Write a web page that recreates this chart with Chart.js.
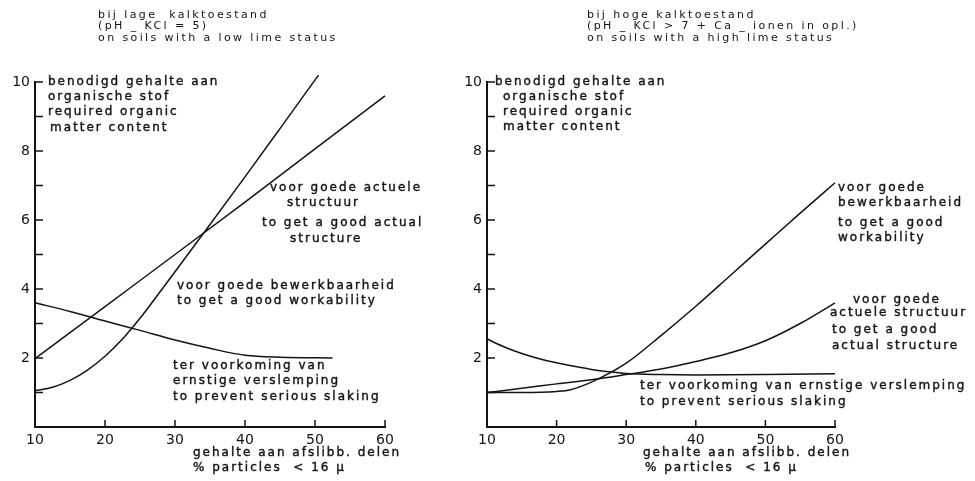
<!DOCTYPE html>
<html>
<head>
<meta charset="utf-8">
<script src="https://cdn.jsdelivr.net/npm/chart.js@4.4.0/dist/chart.umd.min.js"></script>
<style>
  html, body { margin: 0; padding: 0; background: #fff; }
  #wrap { position: relative; width: 975px; height: 481px; }
  #leftBox { position: absolute; left: 0; top: 0; }
  #rightBox { position: absolute; left: 440px; top: 0; }
</style>
</head>
<body>
<div id="wrap">
  <div id="leftBox"><canvas id="lowLime" width="440" height="481"></canvas></div>
  <div id="rightBox"><canvas id="highLime" width="535" height="481"></canvas></div>
</div>
<script>
// % particles < 16 micron (x) vs required organic matter content (y)
const xTicks = [10, 20, 30, 40, 50, 60];
const yTicks = [2, 4, 6, 8, 10];

// low lime status (pH-KCl = 5)
const lowStructureX = [10, 20, 30, 40, 50, 60];
const lowStructureY = [1.98, 3.49, 5.0, 6.52, 8.06, 9.6];
const lowWorkX = [10, 12.5, 15, 17.5, 20, 22.5, 25, 27.5, 30, 35, 40, 45, 50.5];
const lowWorkY = [1.05, 1.15, 1.35, 1.65, 2.05, 2.55, 3.15, 3.82, 4.5, 5.87, 7.25, 8.65, 10.2];
const lowSlakingX = [10, 15, 20, 25, 30, 35, 40, 45, 52.5];
const lowSlakingY = [3.6, 3.35, 3.07, 2.8, 2.52, 2.28, 2.08, 2.02, 2.0];

// high lime status (pH-KCl > 7 + Ca ions in solution)
const highWorkX = [10, 15, 20, 22, 25, 30, 35, 40, 45, 50, 55, 60];
const highWorkY = [1.0, 1.0, 1.03, 1.08, 1.3, 1.85, 2.65, 3.5, 4.4, 5.3, 6.2, 7.08];
const highStructureX = [10, 15, 20, 25, 30, 35, 40, 45, 50, 55, 60, 62];
const highStructureY = [1.0, 1.12, 1.25, 1.37, 1.52, 1.68, 1.9, 2.15, 2.5, 3.0, 3.6, 3.85];
const highSlakingX = [10, 12.5, 15, 17.5, 20, 22.5, 25, 27.5, 30, 35, 40, 50, 60];
const highSlakingY = [2.55, 2.32, 2.13, 1.98, 1.86, 1.76, 1.67, 1.6, 1.55, 1.52, 1.51, 1.52, 1.54];

// text written on the figure, [text, x, y, font size] in page pixels
const lowNotes = [
  ['bij lage  kalktoestand', 98, 15, 11],
  ['(pH _ KCl = 5)', 98, 26, 11],
  ['on soils with a low lime status', 98, 38, 11],
  ['benodigd gehalte aan', 48, 82],
  ['organische stof', 48, 97],
  ['required organic', 48, 112],
  ['matter content', 50, 128],
  ['voor goede actuele', 270, 188],
  ['structuur', 287, 203],
  ['to get a good actual', 262, 223],
  ['structure', 290, 239],
  ['voor goede bewerkbaarheid', 177, 286],
  ['to get a good workability', 177, 301],
  ['ter voorkoming van', 173, 366],
  ['ernstige verslemping', 173, 381],
  ['to prevent serious slaking', 173, 397],
  ['gehalte aan afslibb. delen', 193, 453],
  ['% particles  < 16 μ', 193, 468]
];
const highNotes = [
  ['bij hoge kalktoestand', 587, 15, 11],
  ['(pH _ KCl > 7 + Ca _ ionen in opl.)', 587, 26, 11],
  ['on soils with a high lime status', 587, 38, 11],
  ['benodigd gehalte aan', 495, 82],
  ['organische stof', 503, 97],
  ['required organic', 503, 112],
  ['matter content', 503, 127],
  ['voor goede', 838, 188],
  ['bewerkbaarheid', 838, 203],
  ['to get a good', 838, 223],
  ['workability', 838, 238],
  ['voor goede', 853, 300],
  ['actuele structuur', 830, 313],
  ['to get a good', 832, 330],
  ['actual structure', 832, 346],
  ['ter voorkoming van ernstige verslemping', 640, 386],
  ['to prevent serious slaking', 640, 402],
  ['gehalte aan afslibb. delen', 643, 453],
  ['% particles  < 16 μ', 645, 468]
];

const ink = '#141414';
Chart.defaults.font.family = '"DejaVu Sans", sans-serif';
Chart.defaults.font.size = 12;
Chart.defaults.color = ink;

function pts(xs, ys) {
  return xs.map(function(x, i) { return { x: x, y: ys[i] }; });
}

// tick marks drawn inside the axes + the hand lettering
const sketchPlugin = {
  id: 'sketch',
  afterDraw: function(chart, args, opts) {
    const ctx = chart.ctx;
    const xs = chart.scales.x;
    const ys = chart.scales.y;
    const area = chart.chartArea;
    ctx.save();
    ctx.strokeStyle = ink;
    ctx.lineWidth = 1.5;
    ctx.beginPath();
    ys.ticks.forEach(function(t) {
      if (t.value <= 0) return;
      const py = ys.getPixelForValue(t.value);
      ctx.moveTo(area.left, py);
      ctx.lineTo(area.left + 8, py);
    });
    xs.ticks.forEach(function(t) {
      if (t.value <= xs.min) return;
      const px = xs.getPixelForValue(t.value);
      ctx.moveTo(px, area.bottom);
      ctx.lineTo(px, area.bottom - 7);
    });
    ctx.stroke();

    ctx.fillStyle = ink;
    ctx.lineWidth = 0.4;
    ctx.textAlign = 'left';
    ctx.textBaseline = 'middle';
    opts.notes.forEach(function(n) {
      const size = n[3] || 12;
      ctx.font = size + 'px "DejaVu Sans", sans-serif';
      ctx.letterSpacing = (size === 12 ? 2 : 2.4) + 'px';
      ctx.fillText(n[0], n[1] - opts.offset, n[2]);
      // heavier pen for the body lettering
      if (size === 12) ctx.strokeText(n[0], n[1] - opts.offset, n[2]);
    });
    ctx.restore();
  }
};

function line(xs, ys) {
  return {
    data: pts(xs, ys),
    showLine: true,
    borderColor: ink,
    borderWidth: 1.5,
    pointRadius: 0,
    cubicInterpolationMode: 'monotone',
    clip: false
  };
}

function makeChart(id, datasets, notes, offset, axisWidth, padRight) {
  return new Chart(document.getElementById(id), {
    type: 'scatter',
    data: { datasets: datasets },
    options: {
      responsive: false,
      animation: false,
      layout: { padding: { top: 82, right: padRight, bottom: 0, left: 0 } },
      plugins: {
        legend: { display: false },
        tooltip: { enabled: false },
        sketch: { notes: notes, offset: offset }
      },
      scales: {
        x: {
          type: 'linear',
          min: 10,
          max: 60,
          afterBuildTicks: function(scale) {
            scale.ticks = xTicks.map(function(v) { return { value: v }; });
          },
          afterFit: function(scale) { scale.height = 54; },
          grid: { display: false, drawTicks: false },
          border: { display: true, color: ink, width: 2 },
          ticks: { padding: 5, maxRotation: 0, font: { size: 14 } }
        },
        y: {
          type: 'linear',
          min: 0,
          max: 10,
          ticks: {
            stepSize: 1,
            padding: 5,
            font: { size: 14 },
            callback: function(v) { return yTicks.indexOf(v) >= 0 ? String(v) : ''; }
          },
          afterFit: function(scale) { scale.width = axisWidth; },
          grid: { display: false, drawTicks: false },
          border: { display: true, color: ink, width: 2 }
        }
      }
    },
    plugins: [sketchPlugin]
  });
}

makeChart('lowLime', [
  line(lowStructureX, lowStructureY),
  line(lowWorkX, lowWorkY),
  line(lowSlakingX, lowSlakingY)
], lowNotes, 0, 35, 55);

makeChart('highLime', [
  line(highWorkX, highWorkY),
  line(highStructureX, highStructureY),
  line(highSlakingX, highSlakingY)
], highNotes, 440, 47, 140);
</script>
</body>
</html>
